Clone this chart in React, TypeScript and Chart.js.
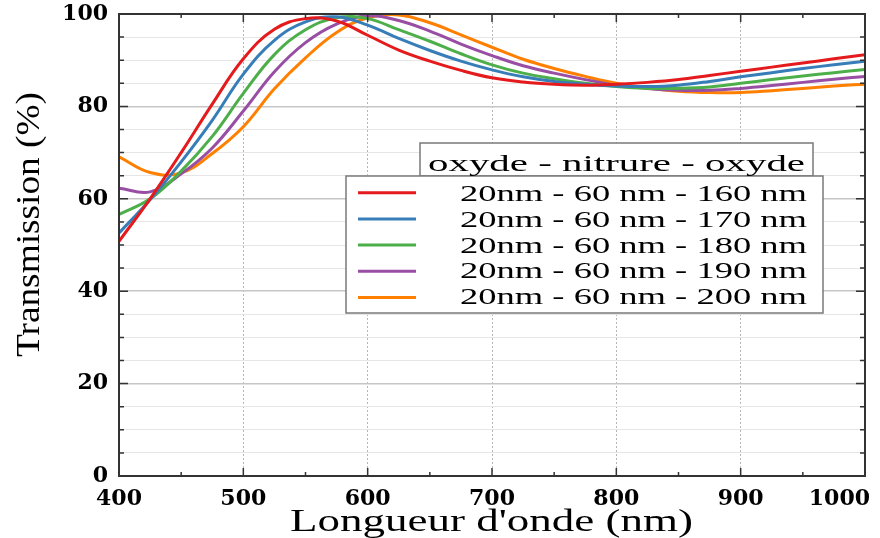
import React, { useEffect, useRef } from "react";
import { Chart, registerables } from "chart.js";

Chart.register(...registerables);

const wavelengths = [400, 425, 450, 475, 500, 525, 550, 575, 600, 625, 650, 675, 700, 725, 750, 775, 800, 825, 850, 875, 900, 925, 950, 975, 1000];
const trans160 = [50.8, 60.0, 70.0, 80.5, 90.3, 96.7, 99.0, 98.5, 95.4, 92.2, 89.8, 87.8, 86.2, 85.3, 84.8, 84.6, 84.8, 85.2, 85.8, 86.7, 87.6, 88.5, 89.4, 90.3, 91.2];
const trans170 = [52.6, 59.8, 68.0, 77.0, 87.0, 94.3, 98.3, 99.4, 97.6, 94.7, 92.1, 89.8, 87.9, 86.4, 85.4, 84.8, 84.4, 84.3, 84.6, 85.4, 86.4, 87.3, 88.2, 89.0, 89.8];
const trans180 = [56.6, 60.0, 66.0, 73.5, 82.8, 91.2, 96.6, 99.2, 99.0, 96.6, 94.1, 91.4, 89.0, 87.2, 86.0, 85.0, 84.3, 83.9, 83.9, 84.2, 85.0, 85.8, 86.6, 87.3, 88.0];
const trans190 = [62.3, 61.5, 65.4, 71.0, 79.0, 87.5, 93.8, 97.8, 99.6, 98.6, 96.3, 93.5, 91.0, 88.8, 87.2, 85.8, 84.6, 83.9, 83.5, 83.5, 83.9, 84.5, 85.2, 85.9, 86.5];
const trans200 = [69.1, 65.7, 65.6, 69.8, 75.6, 83.8, 90.5, 96.0, 99.2, 99.8, 98.1, 95.5, 92.8, 90.2, 88.2, 86.5, 85.0, 84.0, 83.3, 83.0, 83.0, 83.4, 83.9, 84.4, 84.8];

const seriesValues = [trans160, trans170, trans180, trans190, trans200];
const seriesLabels = [
  "20nm - 60 nm - 160 nm",
  "20nm - 60 nm - 170 nm",
  "20nm - 60 nm - 180 nm",
  "20nm - 60 nm - 190 nm",
  "20nm - 60 nm - 200 nm",
];
const seriesColors = ["#e41a1c", "#377eb8", "#4daf4a", "#984ea3", "#ff7f00"];

const xTickLabels = [400, 500, 600, 700, 800, 900, 1000];
const yTickLabels = [0, 20, 40, 60, 80, 100];
const legendTitle = "oxyde - nitrure - oxyde";
const xAxisTitle = "Longueur d'onde (nm)";
const yAxisTitle = "Transmission (%)";

const SERIF = '"Liberation Serif", "Times New Roman", serif';
const TICK_FONT = 'bold 22px "DejaVu Serif", serif';

function drawStretched(
  ctx: CanvasRenderingContext2D,
  text: string,
  x: number,
  y: number,
  width: number,
  font: string,
  crossScale = 1
) {
  ctx.save();
  ctx.font = font;
  ctx.textAlign = "left";
  ctx.textBaseline = "alphabetic";
  const w = ctx.measureText(text).width;
  ctx.translate(x, y);
  ctx.scale(width / w, crossScale);
  ctx.fillText(text, 0, 0);
  ctx.restore();
}

const framePlugin = {
  id: "frameTicks",
  afterDatasetsDraw(chart: any) {
    const { ctx, chartArea: a, scales } = chart;
    const x = scales.x;
    const y = scales.y;
    ctx.save();
    ctx.strokeStyle = "#333333";
    ctx.lineWidth = 1.5;
    for (let v = 400; v <= 1000; v += 50) {
      const px = x.getPixelForValue(v);
      const len = v % 100 === 0 ? 8 : 4;
      ctx.beginPath();
      ctx.moveTo(px, a.bottom);
      ctx.lineTo(px, a.bottom - len);
      ctx.moveTo(px, a.top);
      ctx.lineTo(px, a.top + len);
      ctx.stroke();
    }
    for (let v = 0; v <= 100; v += 5) {
      const py = y.getPixelForValue(v);
      const len = v % 20 === 0 ? 9 : 5;
      ctx.beginPath();
      ctx.moveTo(a.left, py);
      ctx.lineTo(a.left + len, py);
      ctx.moveTo(a.right, py);
      ctx.lineTo(a.right - len, py);
      ctx.stroke();
    }
    ctx.lineWidth = 2;
    ctx.strokeRect(a.left, a.top, a.right - a.left, a.bottom - a.top);
    ctx.restore();
  },
  afterDraw(chart: any) {
    const { ctx, scales } = chart;
    const x = scales.x;
    ctx.save();
    ctx.font = TICK_FONT;
    ctx.fillStyle = "#000";
    ctx.textBaseline = "alphabetic";
    ctx.textAlign = "center";
    xTickLabels.forEach((v) => {
      const label = String(v);
      const w = ctx.measureText(label).width;
      let px = x.getPixelForValue(v);
      if (px + w / 2 > 870) px = 870 - w / 2;
      ctx.fillText(label, px, 505);
    });
    ctx.restore();

    ctx.save();
    ctx.fillStyle = "#000";
    drawStretched(ctx, xAxisTitle, 290, 531, 403, `31px ${SERIF}`);
    ctx.save();
    ctx.translate(39, 357);
    ctx.rotate(-Math.PI / 2);
    drawStretched(ctx, yAxisTitle, 0, 0, 265, `30px ${SERIF}`, 1.15);
    ctx.restore();
    ctx.restore();

    ctx.save();
    ctx.lineWidth = 1.5;
    ctx.strokeStyle = "#7a7a7a";
    ctx.fillStyle = "#ffffff";
    ctx.fillRect(420, 143, 393, 33);
    ctx.strokeRect(420, 143, 393, 33);
    ctx.fillRect(346, 176, 477, 137);
    ctx.strokeRect(346, 176, 477, 137);
    ctx.fillStyle = "#000";
    drawStretched(ctx, legendTitle, 428, 171, 377, `23px ${SERIF}`);
    chart.data.datasets.forEach((ds: any, i: number) => {
      const ly = 192.7 + 26.2 * i;
      ctx.strokeStyle = ds.borderColor;
      ctx.lineWidth = 3;
      ctx.beginPath();
      ctx.moveTo(358, ly);
      ctx.lineTo(416, ly);
      ctx.stroke();
      ctx.fillStyle = "#000";
      drawStretched(ctx, ds.label, 460, 201 + 25.8 * i, 347, `23px ${SERIF}`);
    });
    ctx.restore();
  },
};

export default function App() {
  const canvasRef = useRef<HTMLCanvasElement | null>(null);

  useEffect(() => {
    const canvas = canvasRef.current;
    if (!canvas) return;
    const chart = new Chart(canvas, {
      type: "line",
      data: {
        datasets: seriesValues.map((vals, i) => ({
          label: seriesLabels[i],
          data: wavelengths.map((w, j) => ({ x: w, y: vals[j] })),
          borderColor: seriesColors[i],
          backgroundColor: seriesColors[i],
          borderWidth: 3,
          pointRadius: 0,
          fill: false,
          tension: 0.4,
        })),
      },
      options: {
        responsive: false,
        animation: false,
        devicePixelRatio: 1,
        layout: { padding: { left: 0, right: 15, top: 14, bottom: 0 } },
        plugins: {
          legend: { display: false },
          tooltip: { enabled: false },
        },
        scales: {
          x: {
            type: "linear",
            min: 400,
            max: 1000,
            afterBuildTicks: (s: any) => {
              s.ticks = xTickLabels.map((v) => ({ value: v }));
            },
            afterFit: (s: any) => {
              s.height = 62;
              s.paddingLeft = 0;
              s.paddingRight = 0;
            },
            ticks: { display: false },
            grid: {
              color: "#b5b5b5",
              lineWidth: 1,
              drawTicks: false,
            },
            border: { display: false, dash: [2, 2] },
            title: { display: false, text: xAxisTitle },
          },
          y: {
            type: "linear",
            min: 0,
            max: 100,
            afterFit: (s: any) => {
              s.width = 119;
              s.paddingTop = 0;
              s.paddingBottom = 0;
            },
            ticks: {
              stepSize: 5,
              autoSkip: false,
              padding: 11,
              color: "#000",
              font: { family: '"DejaVu Serif", serif', weight: "bold", size: 22 },
              callback: (v: any) => (yTickLabels.includes(Number(v)) ? String(v) : ""),
            },
            grid: {
              drawTicks: false,
              color: (c: any) => (c.tick && c.tick.value % 20 === 0 ? "#c6c6c6" : "#e6e6e6"),
              lineWidth: (c: any) => (c.tick && c.tick.value % 20 === 0 ? 1.6 : 1),
            },
            border: { display: false },
            title: { display: false, text: yAxisTitle },
          },
        },
      },
      plugins: [framePlugin],
    });
    return () => chart.destroy();
  }, []);

  return (
    <div style={{ position: "fixed", left: 0, top: 0, width: 880, height: 538, background: "#fff" }}>
      <canvas ref={canvasRef} width={880} height={538} style={{ display: "block", width: 880, height: 538 }} />
    </div>
  );
}
